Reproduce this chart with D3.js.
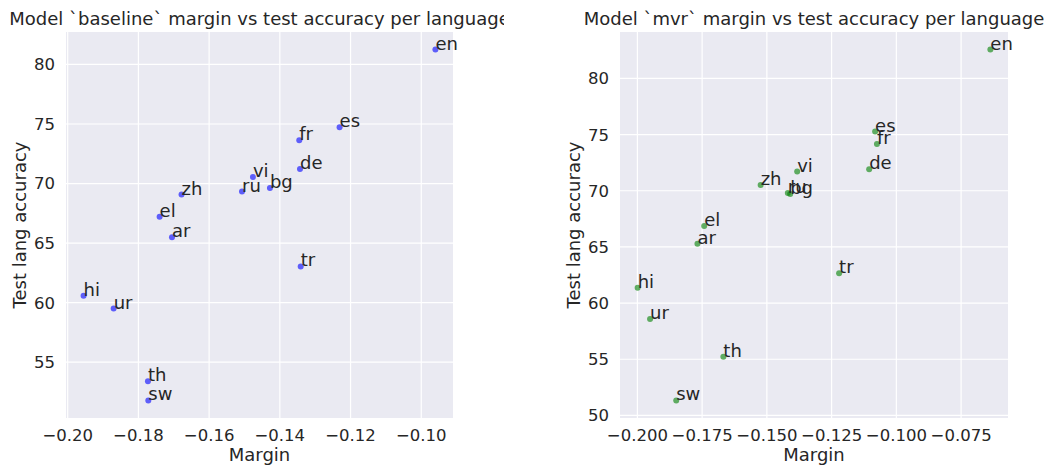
<!DOCTYPE html>
<html>
<head>
<meta charset="utf-8">
<script src="https://cdn.jsdelivr.net/npm/d3@7"></script>
<style>
  body { margin: 0; background: #fff; }
  svg text { font-family: "DejaVu Sans", sans-serif; fill: #262626; }
</style>
</head>
<body>
<div id="chart"></div>
<script>
// languages, same order in both models
const langs = ["en", "es", "fr", "de", "vi", "bg", "ru", "zh", "el", "ar", "tr", "hi", "ur", "th", "sw"];

const baselineMargin = [-0.0960, -0.1231, -0.1345, -0.1343, -0.1476, -0.1428, -0.1507, -0.1678,
  -0.1740, -0.1705, -0.1341, -0.1955, -0.1870, -0.1773, -0.1772];
const baselineAcc = [81.25, 74.72, 73.63, 71.23, 70.54, 69.62, 69.33, 69.08,
  67.22, 65.50, 63.04, 60.59, 59.50, 53.41, 51.79];

const mvrMargin = [-0.0637, -0.1082, -0.1075, -0.1105, -0.1383, -0.1410, -0.1419, -0.1524,
  -0.1742, -0.1768, -0.1221, -0.1999, -0.1951, -0.1668, -0.1850];
const mvrAcc = [82.57, 75.27, 74.17, 71.92, 71.71, 69.70, 69.80, 70.50,
  66.86, 65.29, 62.66, 61.36, 58.58, 55.23, 51.33];

const baselineXTicks = [-0.20, -0.18, -0.16, -0.14, -0.12, -0.10];
const baselineYTicks = [55, 60, 65, 70, 75, 80];
const mvrXTicks = [-0.200, -0.175, -0.150, -0.125, -0.100, -0.075];
const mvrYTicks = [50, 55, 60, 65, 70, 75, 80];

const W = 1046, H = 465;
const tickSize = "16.5px", labelSize = "18px";

const svg = d3.select("#chart").append("svg")
  .attr("width", W).attr("height", H);

svg.append("defs").append("clipPath").attr("id", "leftclip")
  .append("rect").attr("x", 0).attr("y", 0).attr("width", 504).attr("height", H);

const fmtMinus = s => s.replace("-", "\u2212");

// matplotlib-style 5% margins around the data
function pad(ext) {
  const r = ext[1] - ext[0];
  return [ext[0] - 0.05 * r, ext[1] + 0.05 * r];
}

function drawPanel(opts) {
  const { left, right, top, bottom, xs, ys, xTicks, yTicks, xFmt, color, title, clip } = opts;

  const x = d3.scaleLinear().domain(pad(d3.extent(xs))).range([left, right]);
  const y = d3.scaleLinear().domain(pad(d3.extent(ys))).range([bottom, top]);

  const g = svg.append("g");

  g.append("rect")
    .attr("x", left).attr("y", top)
    .attr("width", right - left).attr("height", bottom - top)
    .attr("fill", "#eaeaf2");

  // grid
  g.selectAll(".vg").data(xTicks).enter().append("line")
    .attr("x1", d => x(d)).attr("x2", d => x(d))
    .attr("y1", top).attr("y2", bottom)
    .attr("stroke", "#fff").attr("stroke-width", 1.2);
  g.selectAll(".hg").data(yTicks).enter().append("line")
    .attr("x1", left).attr("x2", right)
    .attr("y1", d => y(d)).attr("y2", d => y(d))
    .attr("stroke", "#fff").attr("stroke-width", 1.2);

  // tick labels
  g.selectAll(".xt").data(xTicks).enter().append("text")
    .attr("x", d => x(d)).attr("y", bottom + 23)
    .attr("text-anchor", "middle")
    .attr("font-size", tickSize)
    .text(d => fmtMinus(d3.format(xFmt)(d)));
  g.selectAll(".yt").data(yTicks).enter().append("text")
    .attr("x", left - 11).attr("y", d => y(d))
    .attr("dy", "0.36em")
    .attr("text-anchor", "end")
    .attr("font-size", tickSize)
    .text(d => d);

  // axis labels
  g.append("text")
    .attr("x", (left + right) / 2).attr("y", 461)
    .attr("text-anchor", "middle")
    .attr("font-size", labelSize)
    .text("Margin");
  g.append("text")
    .attr("transform", `translate(${left - 40},${(top + bottom) / 2}) rotate(-90)`)
    .attr("text-anchor", "middle")
    .attr("font-size", labelSize)
    .text("Test lang accuracy");

  // title
  const t = g.append("text")
    .attr("x", (left + right) / 2).attr("y", 25)
    .attr("text-anchor", "middle")
    .attr("font-size", labelSize)
    .text(title);
  if (clip) t.attr("clip-path", "url(#leftclip)");

  // points
  g.selectAll(".pt").data(langs).enter().append("circle")
    .attr("cx", (d, i) => x(xs[i])).attr("cy", (d, i) => y(ys[i]))
    .attr("r", 3)
    .attr("fill", color).attr("fill-opacity", 0.6);

  g.selectAll(".lb").data(langs).enter().append("text")
    .attr("x", (d, i) => x(xs[i])).attr("y", (d, i) => y(ys[i]))
    .attr("font-size", labelSize)
    .text(d => d);
}

drawPanel({
  left: 66, right: 453, top: 32, bottom: 418,
  xs: baselineMargin, ys: baselineAcc,
  xTicks: baselineXTicks, yTicks: baselineYTicks, xFmt: ".2f",
  color: "blue", title: "Model `baseline` margin vs test accuracy per language", clip: true
});

drawPanel({
  left: 620, right: 1008, top: 32, bottom: 418,
  xs: mvrMargin, ys: mvrAcc,
  xTicks: mvrXTicks, yTicks: mvrYTicks, xFmt: ".3f",
  color: "green", title: "Model `mvr` margin vs test accuracy per language", clip: false
});
</script>
</body>
</html>
